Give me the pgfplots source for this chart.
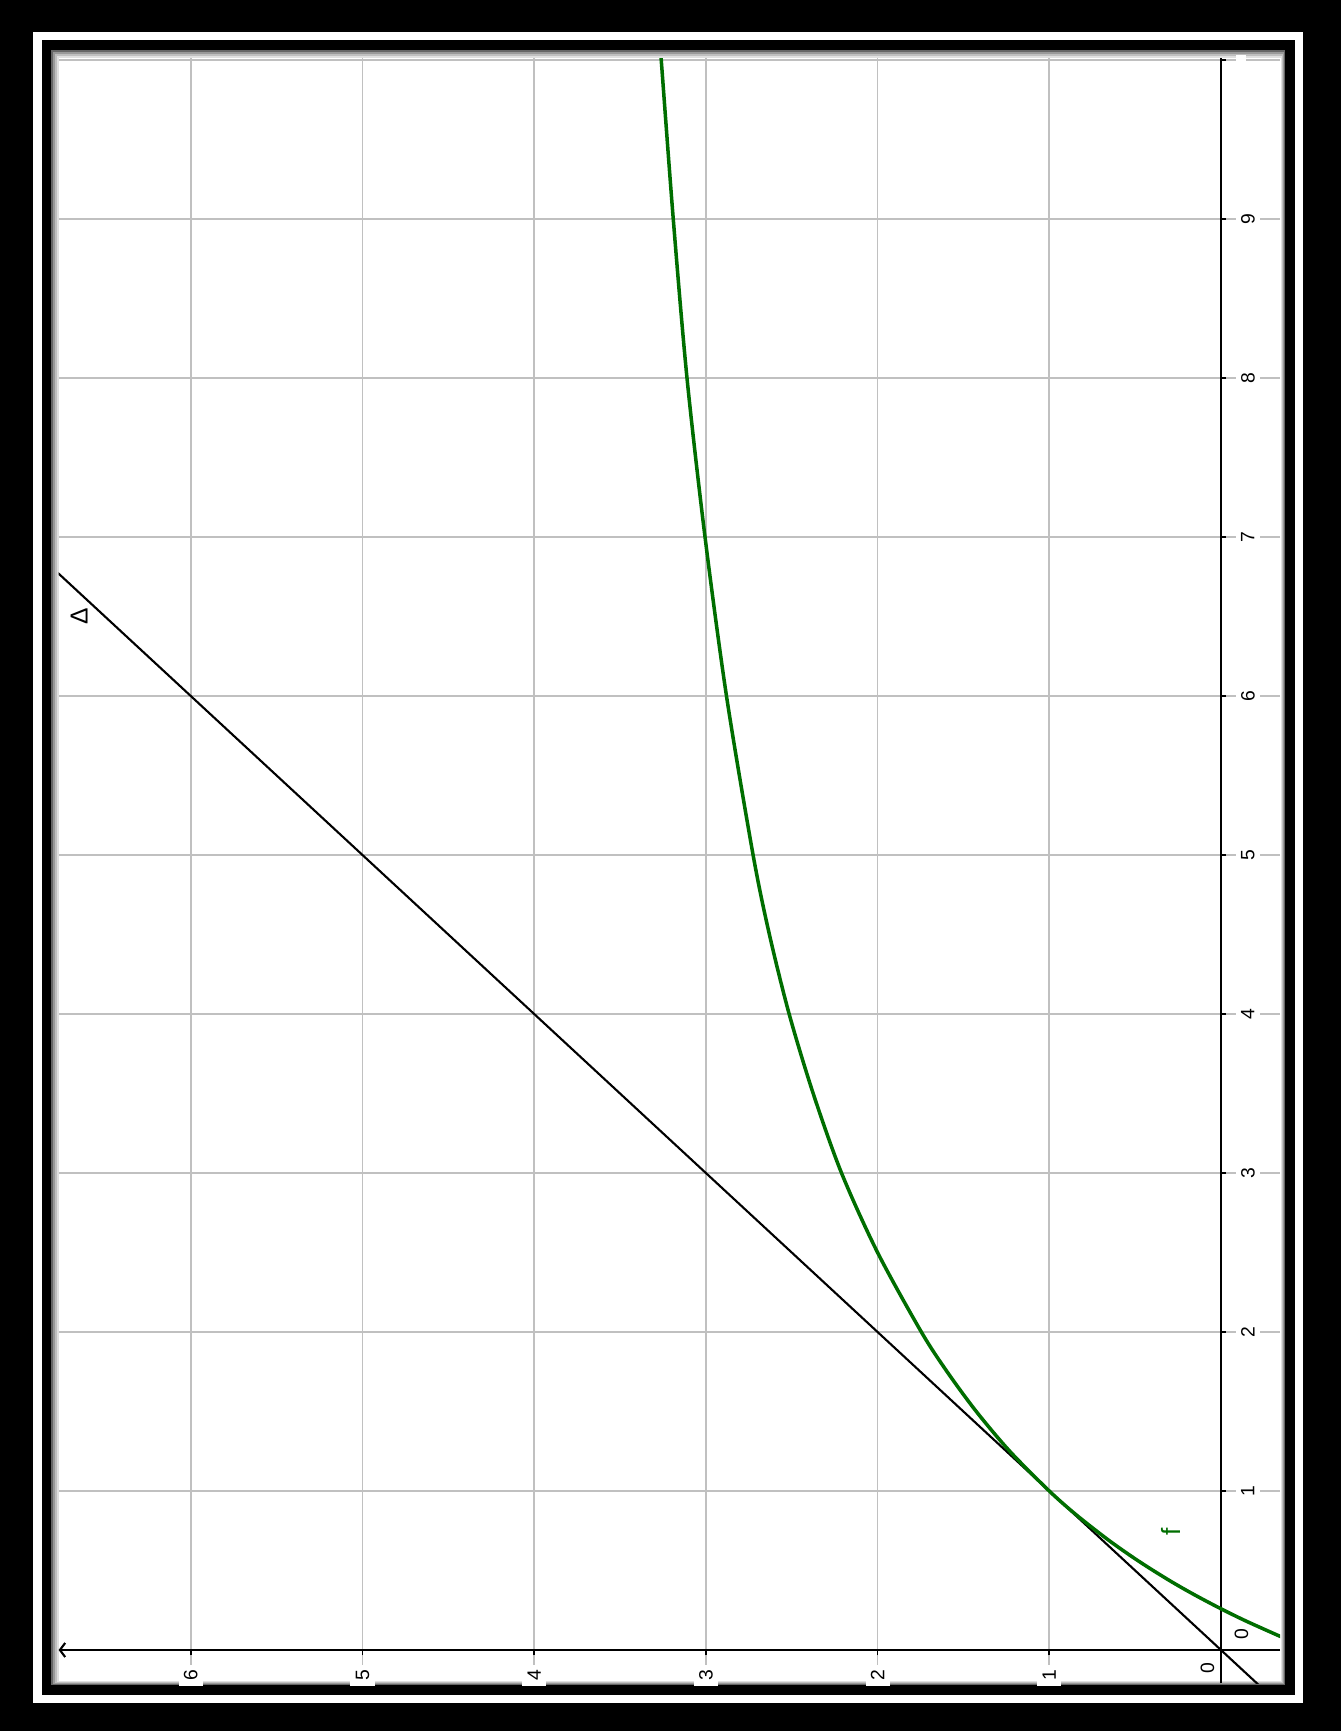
\documentclass[border=0pt]{standalone}
\usepackage{fontspec}
\setmainfont{Liberation Sans}
\usepackage{pgfplots}
\pgfplotsset{compat=1.18}
\usetikzlibrary{arrows.meta}
\definecolor{fgreen}{RGB}{0,110,0}
\definecolor{gridgray}{RGB}{192,192,192}
\begin{document}
\begin{tikzpicture}
% frame
\fill[black] (-12.21,-0.81) rectangle (1.20,16.50);
\fill[white] (-11.88,-0.53) rectangle (0.82,16.18);
\fill[black] (-11.79,-0.45) rectangle (0.74,16.10);
\fill[black!60] (-11.70,-0.35) rectangle (0.64,16.00);
\fill[black!40] (-11.68,-0.34) rectangle (0.63,15.98);
\fill[black!25] (-11.66,-0.33) rectangle (0.62,15.96);
\fill[black!12] (-11.64,-0.32) rectangle (0.61,15.94);
\fill[white] (-11.62,-0.31) rectangle (0.60,15.92);
\begin{axis}[
  at={(0,0)}, anchor=origin,
  x={(0cm,1.59cm)}, y={(-1.717cm,0cm)},
  xmin=-0.21, xmax=10.01, ymin=-0.344, ymax=6.77,
  axis lines=middle,
  axis line style={black, line width=0.6pt},
  x axis line style={-},
  y axis line style={-{Straight Barb[length=1.5pt,width=4pt]}},
  grid=major, grid style={gridgray, line width=0.5pt},
  xtick={1,...,10}, xticklabels={1,2,3,4,5,6,7,8,9,{}},
  ytick={1,...,6},
  tick style={black, line width=0.5pt},
  tick align=outside, major tick length=1.5pt,
  /pgf/number format/assume math mode=true,
  xticklabel style={font=\fontsize{5.5}{6}\selectfont, xshift=2.5pt, rotate=90, anchor=north, fill=white, inner sep=1.5pt},
  yticklabel style={font=\fontsize{5.5}{6}\selectfont, yshift=-2.5pt, rotate=90, anchor=east, fill=white, inner sep=1.5pt},
  clip=true,
]
\addplot[black, line width=0.6pt] coordinates {(-0.25,-0.25) (6.8,6.8)};
\addplot[fgreen, line width=1pt, smooth] coordinates {
(0.08,-0.357) (0.18,-0.150) (0.262,0.005) (0.35,0.159) (0.43,0.289)
(0.52,0.424) (0.6,0.536) (0.7,0.666) (0.85,0.843) (1.0,1.0) (1.25,1.23)
(1.5,1.425) (1.75,1.595) (2.0,1.745) (2.5,2.00) (3.0,2.21) (3.5,2.375) (4.0,2.515)
(4.5,2.63) (5.0,2.725) (6.0,2.88) (7.0,3.005) (8.0,3.11) (9.0,3.19) (10.0,3.26) (10.2,3.275)
};
\node[rotate=90, text=fgreen, font=\fontsize{7.5}{8}\selectfont] at (axis cs:0.742,0.29) {f};
\node[rotate=90, font=\fontsize{7}{8}\selectfont] at (axis cs:6.50,6.65) {Δ};
\node[rotate=90, font=\fontsize{5.5}{6}\selectfont, inner sep=0pt] at (axis cs:0.10,-0.12) {0};
\node[rotate=90, font=\fontsize{5.5}{6}\selectfont, inner sep=0pt] at (axis cs:-0.116,0.079) {0};
\end{axis}
\end{tikzpicture}
\end{document}
